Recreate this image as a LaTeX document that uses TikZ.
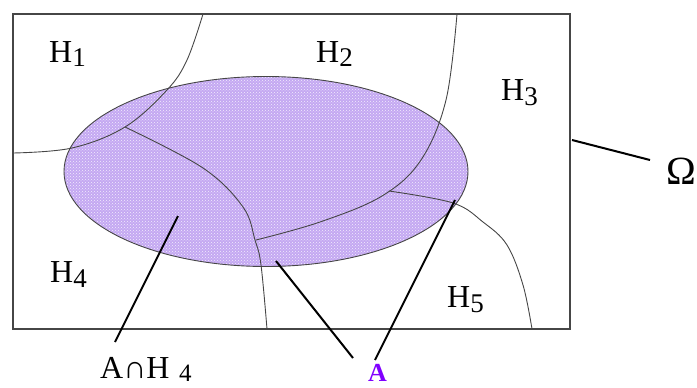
\documentclass[tikz,border=0pt]{standalone}
\usepackage{fontspec}
\setmainfont{Liberation Serif}
\usetikzlibrary{patterns}
\definecolor{setfill}{RGB}{196,168,242}
\definecolor{setline}{RGB}{70,70,70}
\definecolor{apurple}{RGB}{128,0,255}
\newcommand\Hsub[1]{H\raisebox{-5pt}{\fontsize{27}{27}\selectfont #1}}
\begin{document}
\begin{tikzpicture}[x=1pt,y=-1pt,
  lbl/.style={anchor=base west, inner sep=0pt, font=\fontsize{32}{32}\selectfont},
  part/.style={draw=setline, line width=0.9pt},
  frame/.style={draw=setline, line width=1.4pt},
  pointer/.style={draw=black, line width=2pt}]
\useasboundingbox (0,0) rectangle (697,388);
% ellipse A (fill)
\fill[setfill] (266,171.5) ellipse [x radius=202, y radius=95];
\fill[pattern=crosshatch dots, pattern color=white!80!setfill] (266,171.5) ellipse [x radius=202, y radius=95];
% partition boundaries
\draw[part] plot[smooth, tension=0.6] coordinates {(203,14) (187,60) (167,90) (125,127) (72,148) (13,153)};
\draw[part] plot[smooth, tension=0.6] coordinates {(125,127) (203,168) (243,207) (255,240) (261,265) (267,329)};
\draw[part] plot[smooth, tension=0.6] coordinates {(457,14) (446,100) (421,160) (382,196) (320,222) (256,240)};
\draw[part] plot[smooth, tension=0.6] coordinates {(389,191) (453,203) (483,222) (507,245) (523,285) (532,329)};
% ellipse outline
\draw[part] (266,171.5) ellipse [x radius=202, y radius=95];
% frame Omega
\draw[frame] (13,14) rectangle (570,329);
% labels
\node[lbl] (h1) at (49,62) {\Hsub{1}};
\node[lbl] (h2) at (316,62) {\Hsub{2}};
\node[lbl] (h3) at (501,100) {\Hsub{3}};
\node[lbl] (h4) at (50,282) {\Hsub{4}};
\node[lbl] (h5) at (447,307) {\Hsub{5}};
\node[lbl, font=\fontsize{40}{40}\selectfont] (om) at (666,184) {Ω};
\node[lbl] (ah) at (100,378) {A∩H\hspace{0.3em}\raisebox{-3pt}{\fontsize{25}{25}\selectfont 4}};
\node[lbl, font=\fontsize{26}{26}\selectfont\bfseries, text=apurple] (a) at (368,381) {A};
% pointers
\coordinate (omA) at (572,140); \coordinate (omB) at (650,160);
\coordinate (ahA) at (178,216); \coordinate (ahB) at (115,342);
\coordinate (a1A) at (276,261); \coordinate (a1B) at (353,358);
\coordinate (a2A) at (455,200); \coordinate (a2B) at (375,360);
\draw[pointer] (omA) -- (omB);
\draw[pointer] (ahA) -- (ahB);
\draw[pointer] (a1A) -- (a1B);
\draw[pointer] (a2A) -- (a2B);
\end{tikzpicture}
\end{document}
